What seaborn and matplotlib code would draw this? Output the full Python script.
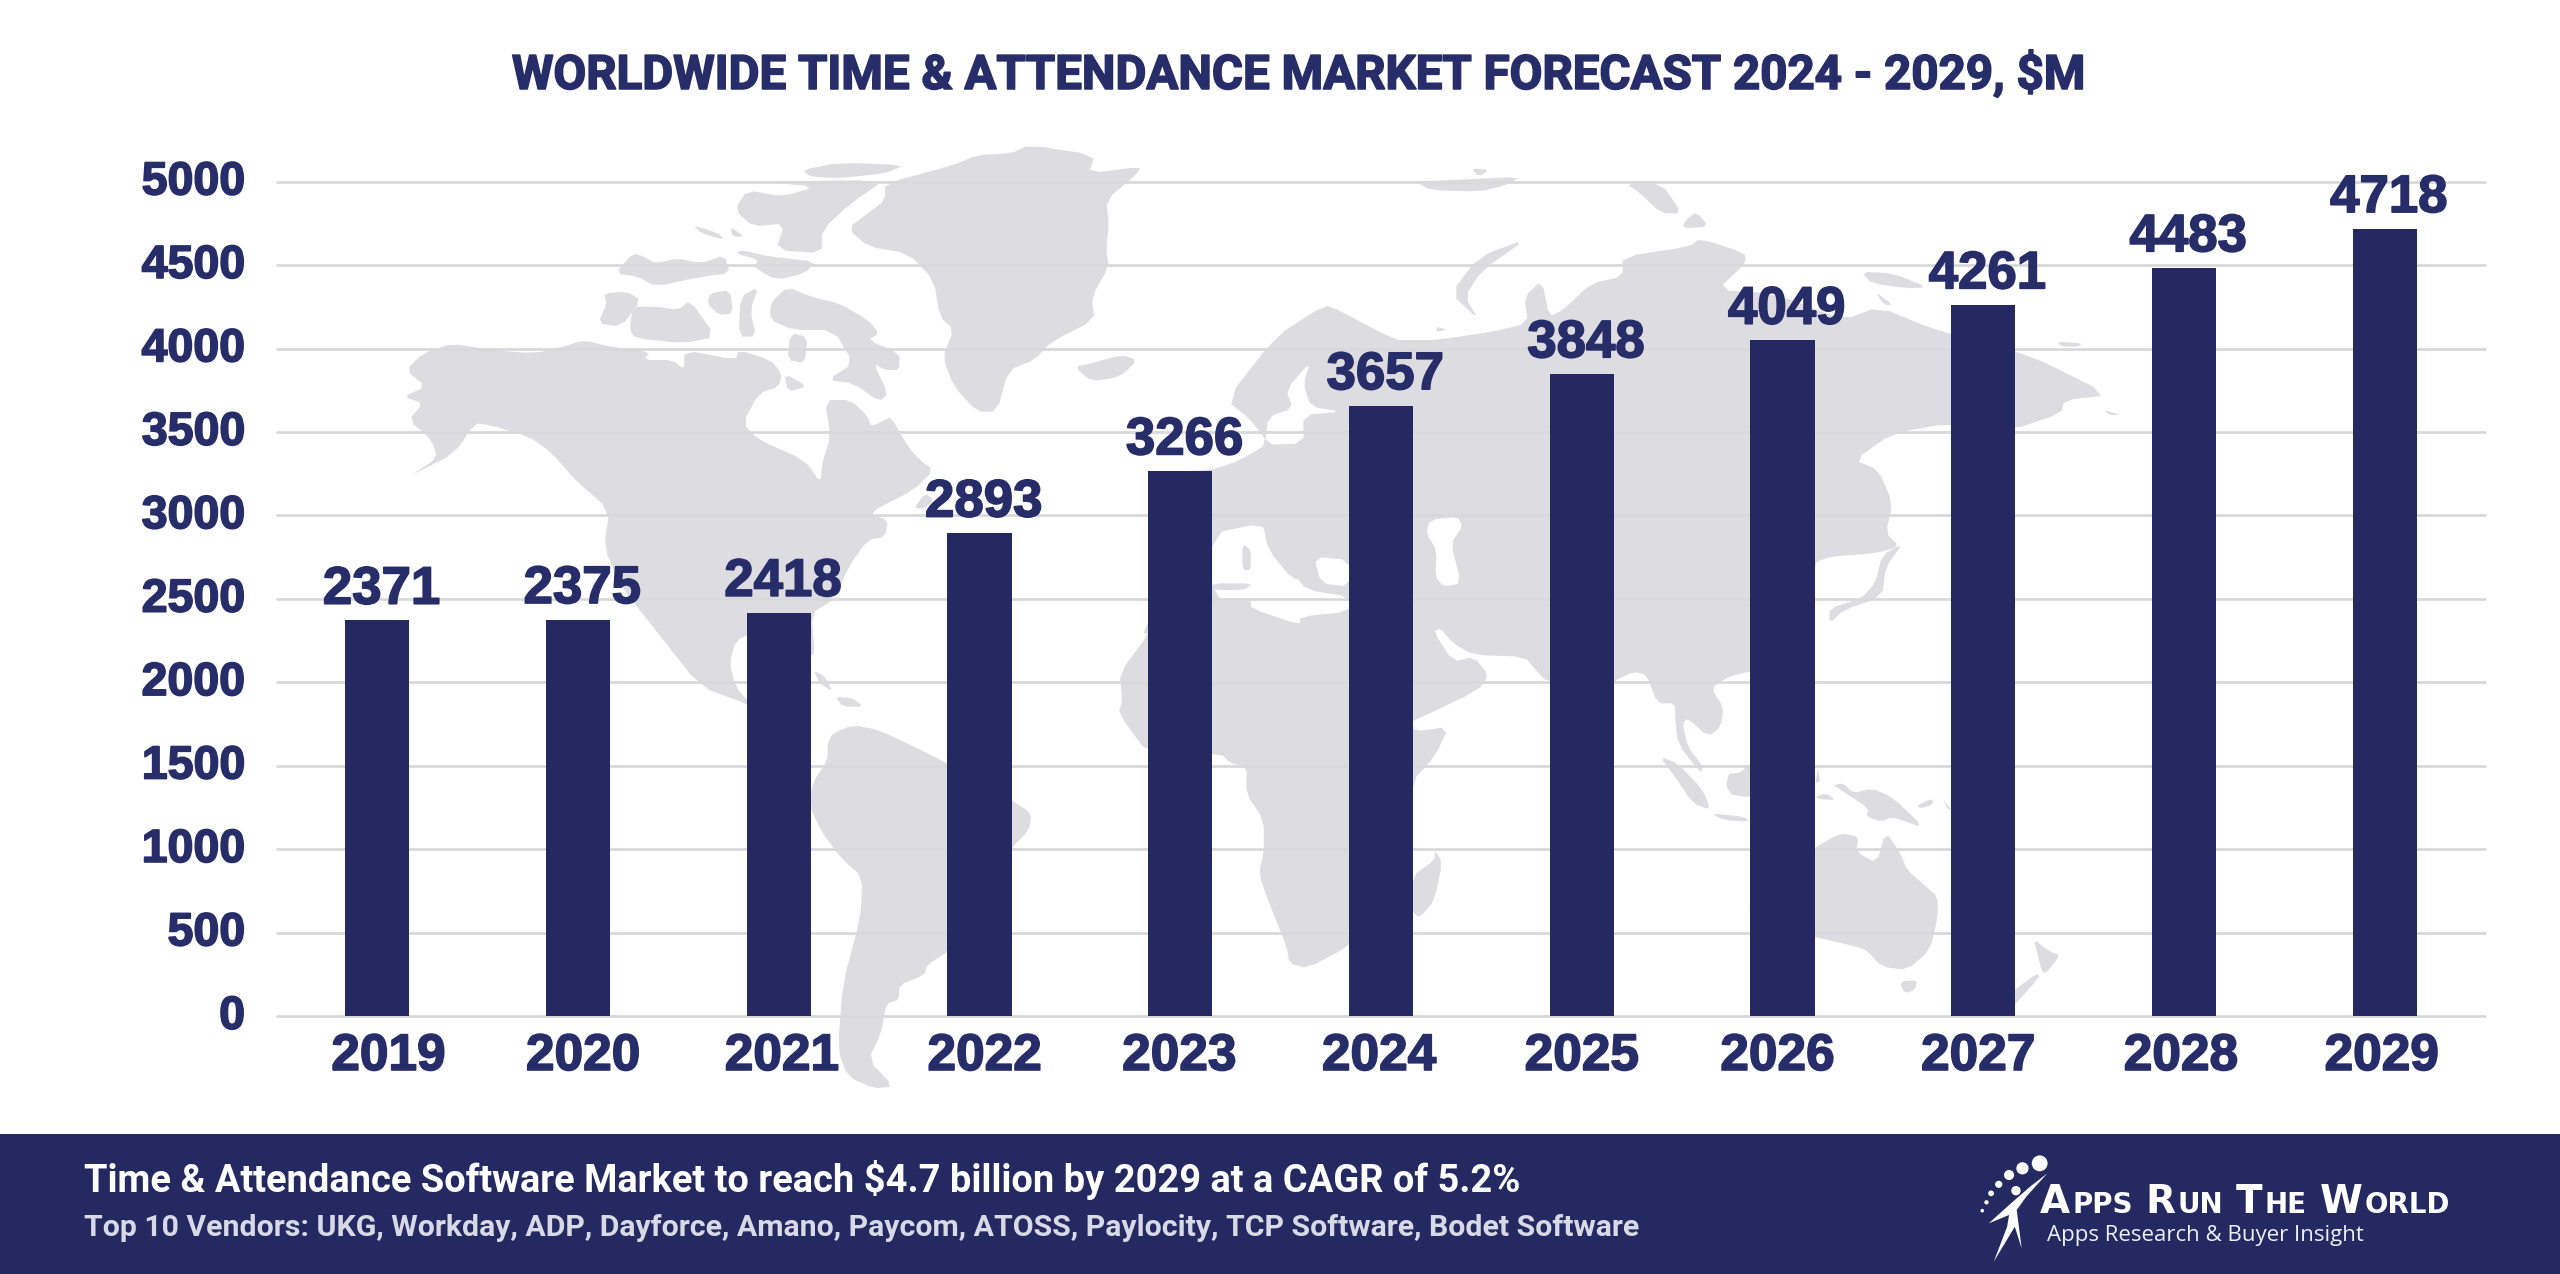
import numpy as np
import pandas as pd
import matplotlib
matplotlib.use("Agg")
import matplotlib.pyplot as plt
import matplotlib.patheffects as pe
from matplotlib.patches import Polygon, Circle, Rectangle
from matplotlib.transforms import ScaledTranslation
import seaborn as sns

# ---------- chart data ----------
years = ["2019", "2020", "2021", "2022", "2023", "2024", "2025", "2026", "2027", "2028", "2029"]
market_value = [2371, 2375, 2418, 2893, 3266, 3657, 3848, 4049, 4261, 4483, 4718]
y_ticks = [0, 500, 1000, 1500, 2000, 2500, 3000, 3500, 4000, 4500, 5000]
title_text = "WORLDWIDE TIME & ATTENDANCE MARKET FORECAST 2024 - 2029, $M"
banner_line1 = "Time & Attendance Software Market to reach $4.7 billion by 2029 at a CAGR of 5.2%"
banner_line2 = "Top 10 Vendors: UKG, Workday, ADP, Dayforce, Amano, Paycom, ATOSS, Paylocity, TCP Software, Bodet Software"
logo_sub = "Apps Research & Buyer Insight"

NAVY = "#242a61"
TEXT = "#272d69"
GRID = "#d9d9db"
LAND = "#dddce0"
W, H = 2560, 1274

sns.set_theme(style="white")
plt.rcParams["font.family"] = ["Liberation Sans", "DejaVu Sans"]
fig = plt.figure(figsize=(W / 100, H / 100), dpi=100, facecolor="white")
heavy = [pe.withStroke(linewidth=1.2, foreground=TEXT)]

# ---------- decorative backdrop (pixel space) ----------
bg = fig.add_axes([0, 0, 1, 1], zorder=0)
bg.set_xlim(0, W)
bg.set_ylim(H, 0)
bg.axis("off")


def crop(x0, y0, w):
    s = w / 1568
    return lambda pts: np.array([(x0 + p[0] * s, y0 + p[1] / 3) for p in pts], float)


z4 = crop(380, 130, 900)
z5 = crop(700, 600, 800)
z6 = crop(1100, 150, 1100)
z7 = crop(1300, 600, 800)
z2 = crop(1900, 1120, 600)


def smooth(p, n=2):
    for _ in range(n):
        q = np.roll(p, -1, axis=0)
        p = np.column_stack([0.8 * p + 0.2 * q, 0.2 * p + 0.8 * q]).reshape(-1, 2)
    return p


def land(p, color=LAND, n=2, z=1):
    bg.add_patch(Polygon(smooth(p, n), closed=True, fc=color, ec="none", zorder=z))


north_america = np.vstack([
    z4([(45, 720), (75, 670), (125, 640), (190, 660), (270, 670), (320, 650), (355, 630), (400, 650), (470, 665),
        (460, 690), (510, 690), (530, 720), (530, 660), (620, 690), (625, 660), (680, 690), (700, 730), (695, 770),
        (660, 790), (632, 880), (660, 930), (740, 990), (768, 1060), (770, 1000), (785, 920), (775, 810), (820, 810),
        (850, 860), (855, 890), (880, 870), (890, 860), (920, 950), (940, 990), (965, 1020), (930, 1080), (850, 1150),
        (885, 1170), (880, 1220), (850, 1230), (820, 1300), (790, 1410)]),
    z5([(218, 40), (225, 160), (215, 170), (200, 110), (120, 90), (70, 120), (58, 190), (70, 260), (92, 300),
        (150, 350), (215, 390), (215, 400), (92, 312), (0, 260)]),
    z4([(480, 1500), (420, 1370), (390, 1250), (400, 1140), (340, 1050), (300, 970), (260, 920), (190, 885),
        (165, 880), (130, 970), (50, 1040), (100, 985), (90, 930), (50, 870), (75, 820), (40, 800), (80, 770)]),
])
land(north_america, n=1)

for pts in [
    [(880, 160), (1000, 105), (1040, 75), (1100, 70), (1130, 45), (1245, 75), (1235, 130), (1325, 110), (1320, 130),
     (1265, 210), (1270, 280), (1265, 360), (1270, 410), (1240, 500), (1245, 570), (1170, 635), (1140, 690),
     (1095, 720), (1075, 845), (1040, 845), (1000, 770), (980, 680), (1000, 600), (975, 560), (965, 450), (920, 370),
     (850, 350), (815, 295), (850, 250), (880, 210)],
    [(735, 120), (800, 98), (915, 105), (880, 130), (800, 145), (750, 140)],
    [(665, 155), (880, 150), (820, 220), (770, 300), (770, 370), (690, 360), (705, 280), (650, 290), (618, 240),
     (640, 180), (700, 200), (760, 170)],
    [(545, 285), (590, 310), (600, 330), (560, 310)],
    [(610, 290), (635, 320), (615, 320)],
    [(630, 360), (680, 380), (760, 395), (740, 430), (690, 450), (650, 410), (660, 390), (620, 370)],
    [(410, 430), (440, 370), (460, 380), (480, 400), (520, 385), (560, 400), (600, 375), (610, 430), (560, 440),
     (480, 470), (450, 440)],
    [(680, 520), (710, 470), (750, 500), (800, 520), (850, 570), (870, 610), (850, 630), (905, 670), (905, 720),
     (880, 720), (860, 700), (885, 790), (870, 815), (825, 760), (780, 750), (825, 700), (790, 600), (720, 600),
     (680, 570)],
    [(390, 490), (430, 485), (455, 510), (420, 590), (380, 580), (395, 520)],
    [(440, 530), (480, 530), (520, 540), (540, 510), (585, 620), (530, 640), (445, 625), (435, 600)],
    [(628, 500), (660, 470), (645, 540), (655, 620), (625, 620)],
    [(575, 490), (610, 480), (615, 550), (590, 555), (570, 520)],
    [(715, 610), (745, 620), (740, 700), (710, 690)],
    [(705, 730), (745, 770), (710, 785)],
    [(1240, 700), (1290, 675), (1320, 690), (1290, 740), (1240, 755), (1210, 710)],
    [(930, 1135), (950, 1090), (965, 1110), (950, 1135)],
]:
    land(z4(pts), n=1)

south_america = z5([(260, 400), (300, 375), (350, 390), (420, 440), (485, 490), (610, 600), (650, 640), (645, 690),
                    (610, 745), (540, 900), (490, 1050), (445, 1095), (440, 1125), (390, 1155), (390, 1200),
                    (365, 1210), (355, 1300), (330, 1380), (380, 1460), (340, 1465), (290, 1430), (270, 1350),
                    (280, 1150), (315, 950), (318, 830), (280, 780), (240, 700), (215, 620), (220, 550), (250, 480),
                    (250, 430)])
land(south_america, n=1)

afro_eurasia = np.vstack([
    z5([(880, 100), (822, 220), (828, 300), (820, 340), (880, 465), (1020, 460), (1040, 490), (1072, 500), (1070, 580),
        (1105, 660), (1105, 760), (1095, 820), (1118, 920), (1150, 1040), (1155, 1090), (1190, 1105), (1270, 1040),
        (1330, 950), (1395, 700), (1395, 545), (1440, 470), (1468, 380), (1400, 395), (1395, 360)]),
    z7([(220, 365), (350, 270), (370, 225), (340, 170), (300, 185), (262, 95), (275, 85), (300, 130), (340, 165),
        (440, 170), (465, 215), (480, 240), (489, 240), (550, 400), (612, 245), (655, 215), (680, 225), (700, 310),
        (735, 310), (735, 350), (740, 430), (785, 520), (790, 500), (760, 440), (750, 370), (760, 355), (800, 410),
        (825, 380), (830, 320), (805, 265), (840, 230), (880, 215), (960, 200)]),
    z6([(1017, 1240), (1040, 1220), (1105, 1210), (1140, 1190), (1120, 1150), (1130, 1060), (1110, 960), (1075, 930),
        (1130, 850), (1210, 820), (1300, 840), (1370, 790), (1375, 750), (1440, 735), (1320, 610), (1190, 540),
        (1110, 470), (1060, 510), (960, 430), (880, 420), (920, 340), (920, 310), (855, 265), (840, 290), (745, 320),
        (745, 380), (700, 400), (660, 480), (640, 500), (630, 390), (605, 440), (610, 520), (560, 545), (480, 570),
        (450, 570), (420, 570), (340, 480), (320, 465), (250, 560), (180, 750), (215, 810), (240, 880), (200, 930),
        (160, 960), (100, 965), (100, 1300), (60, 1450)]),
])
land(afro_eurasia, n=1)

# inland seas
for pts in [
    [(300, 635), (265, 720), (275, 775), (240, 800), (235, 885), (290, 880), (290, 795), (345, 785), (300, 770),
     (290, 700)],
    [(160, 1150), (230, 1120), (240, 1170), (275, 1270), (295, 1320), (355, 1340), (355, 1385), (285, 1400),
     (285, 1425), (215, 1375), (215, 1350), (160, 1345)],
    [(305, 1220), (355, 1230), (355, 1310), (315, 1300)],
    [(470, 1110), (510, 1100), (517, 1130), (500, 1180), (515, 1300), (490, 1310), (478, 1280), (480, 1200),
     (465, 1150)],
]:
    land(z6(pts), color="white", n=1, z=2)

for pts in [
    [(232, 1120), (245, 1125), (295, 1280), (275, 1290), (240, 1200)],
    [(203, 1180), (215, 1200), (215, 1260), (203, 1260)],
    [(160, 1300), (218, 1300), (205, 1320), (160, 1320)],
    [(1145, 1180), (1115, 1215), (1105, 1300), (1085, 1345), (1040, 1375), (1040, 1420), (1060, 1380), (1115, 1340),
     (1120, 1250)],
    [(610, 265), (540, 320), (500, 430), (540, 510), (520, 440), (545, 360)],
    [(480, 530), (495, 540), (480, 545)],
    [(450, 95), (500, 90), (600, 80), (580, 105), (540, 125), (470, 120)],
    [(530, 55), (555, 60), (540, 80)],
    [(750, 100), (800, 100), (830, 190), (800, 190), (770, 130)],
    [(835, 210), (850, 185), (868, 230), (830, 235)],
    [(1085, 365), (1130, 370), (1180, 412), (1150, 415), (1100, 400)],
    [(1105, 425), (1130, 465), (1118, 465)],
    [(1365, 575), (1400, 580), (1395, 590), (1370, 590)],
    [(1430, 780), (1455, 795), (1440, 795)],
]:
    land(z6(pts), n=1, z=3)

for pts in [
    [(705, 470), (740, 490), (790, 570), (805, 630), (770, 610), (735, 530)],
    [(805, 640), (870, 650), (880, 665), (830, 660)],
    [(880, 495), (860, 520), (840, 520), (835, 560), (850, 590), (960, 590), (960, 500)],
    [(1015, 505), (1020, 545), (1010, 550)],
    [(1010, 590), (1030, 580), (1050, 600), (1020, 598)],
    [(1045, 555), (1065, 550), (1085, 580), (1120, 565), (1160, 590), (1225, 685), (1160, 650), (1140, 665),
     (1110, 650), (1115, 625), (1060, 570)],
    [(1210, 615), (1240, 595), (1240, 615), (1215, 625)],
    [(1260, 600), (1275, 625), (1272, 632)],
    [(880, 900), (960, 800), (1007, 745), (1035, 720), (1060, 700), (1095, 710), (1090, 755), (1130, 790), (1148, 695),
     (1175, 755), (1190, 810), (1220, 850), (1250, 890), (1250, 950), (1235, 1050), (1190, 1110), (1140, 1100),
     (1110, 1050), (1090, 1040), (1007, 1010), (960, 1000), (885, 970)],
    [(1175, 1145), (1210, 1140), (1205, 1170), (1185, 1180)],
    [(1438, 1018), (1470, 1055), (1490, 1065), (1465, 1115), (1455, 1120), (1445, 1060)],
    [(1445, 1120), (1450, 1130), (1398, 1220), (1380, 1240), (1360, 1240), (1400, 1170)],
]:
    land(z7(pts), n=1)

for pts in [
    [(1440, 750), (1455, 785), (1440, 900), (1410, 955), (1395, 930), (1395, 830), (1440, 780)],
    [(222, 210), (245, 230), (260, 275), (235, 250)],
    [(265, 290), (300, 295), (320, 320), (280, 320)],
]:
    land(z5(pts), n=1)

# ---------- chart ----------
ax = fig.add_axes([277 / W, 1 - 1016 / H, (2485 - 277) / W, (1016 - 181.7) / H], zorder=1)
ax.patch.set_alpha(0)
df = pd.DataFrame({"year": years, "value": market_value})
sns.barplot(data=df, x="year", y="value", color=NAVY, saturation=1, width=0.32, ax=ax, zorder=3, linewidth=0)
ax.set_xlim(-0.5, len(years) - 0.5)
ax.set_ylim(0, 5000)
ax.set_yticks(y_ticks)
ax.set_xlabel("")
ax.set_ylabel("")
ax.grid(axis="y", color=GRID, lw=2.0, clip_on=False)
ax.set_axisbelow(True)
for ln in ax.get_ygridlines():
    ln.set_clip_on(False)
sns.despine(ax=ax, left=True, bottom=True, top=True, right=True)
ax.tick_params(axis="both", length=0)
ax.tick_params(axis="y", pad=23, labelsize=33.5, labelcolor=TEXT)
ax.tick_params(axis="x", pad=11.5, labelsize=37, labelcolor=TEXT)
for lab in ax.get_yticklabels():
    lab.set_fontweight("bold")
    lab.set_path_effects(heavy)
    lab.set_transform(lab.get_transform() + ScaledTranslation(0, 3 / 72, fig.dpi_scale_trans))
x_nudge_px = [11, 5, 3, 5, -1, -2, 0, -5, -5, -3, -3]
for lab, nudge in zip(ax.get_xticklabels(), x_nudge_px):
    lab.set_fontweight("bold")
    lab.set_path_effects(heavy)
    lab.set_transform(lab.get_transform() + ScaledTranslation(nudge / 100, 0, fig.dpi_scale_trans))

for i, v in enumerate(market_value):
    ax.annotate(str(v), (i, v), xytext=(3, 12), textcoords="offset points", ha="center", va="baseline",
                fontsize=38, fontweight="bold", color=TEXT, zorder=5, path_effects=heavy)

fig.text(1299 / W, 1 - 75 / H, title_text, ha="center", va="center", fontsize=34.2, fontweight="bold",
         color=TEXT, family=["Roboto", "DejaVu Sans"], zorder=5, path_effects=heavy)

# ---------- banner and logo ----------
fg = fig.add_axes([0, 0, 1, 1], zorder=2)
fg.set_xlim(0, W)
fg.set_ylim(H, 0)
fg.axis("off")
fg.add_patch(Rectangle((0, 1134), W, H - 1134, fc=NAVY, ec="none"))
fg.text(84, 1180, banner_line1, color="white", fontsize=27.4, fontweight="bold", va="center", ha="left",
        family=["Roboto", "DejaVu Sans"])
fg.text(84, 1228, banner_line2, color="#d8d9e6", fontsize=21.75, fontweight="bold", va="center", ha="left",
        family=["Roboto", "DejaVu Sans"])

for cx, cy, r in [(365, 130, 22), (320, 145, 17), (285, 165, 14), (258, 193, 10), (238, 220, 8), (226, 247, 6),
                  (215, 272, 5), (303, 212, 13)]:
    c = z2([(cx, cy)])[0]
    fg.add_patch(Circle(c, r * 0.36, fc="white", ec="none"))
fg.add_patch(Polygon(z2([(385, 160), (340, 200), (290, 250), (232, 310), (285, 285), (280, 320), (245, 425), (300, 320),
                         (318, 385), (305, 270), (330, 230)]), closed=True, fc="white", ec="none"))

# small-caps wordmark laid out run by run
renderer = fig.canvas.get_renderer()
runs = [("A", 1), ("PPS", 0), (" ", 0), ("R", 1), ("UN", 0), (" ", 0), ("T", 1), ("HE", 0), (" ", 0), ("W", 1), ("ORLD", 0)]
xpos = 2040
for s, big in runs:
    t = fg.text(xpos, 1213, s, color="white", fontsize=28 if big else 20, fontweight="bold", va="baseline",
                ha="left", family=["DejaVu Sans"])
    if s == " ":
        xpos += 11
        t.remove()
    else:
        xpos += t.get_window_extent(renderer).width + 2
fg.text(2047, 1235, logo_sub, color="#eef0f6", fontsize=16, va="center", ha="left", family=["Open Sans", "DejaVu Sans"])

fig.savefig("out.png", dpi=100, facecolor="white")
